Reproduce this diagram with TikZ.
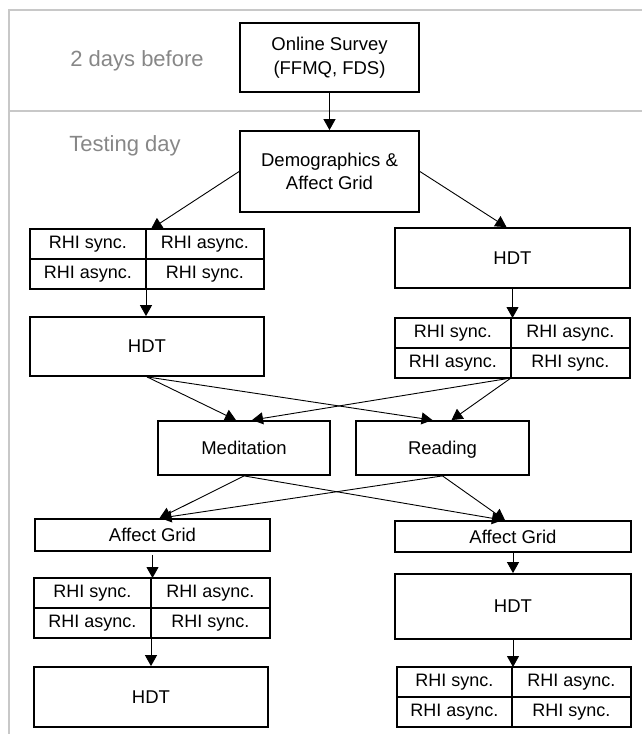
\documentclass[tikz,border=0pt]{standalone}
\usepackage{fontspec}
\setmainfont{Liberation Sans}
\usetikzlibrary{arrows.meta}
\definecolor{framegray}{RGB}{200,200,200}
\definecolor{labelgray}{RGB}{135,135,135}

\begin{document}
\begin{tikzpicture}[x=1pt,y=-1pt,
  box/.style={draw,line width=1.8pt,inner sep=0pt,align=center,font=\fontsize{18.5}{23.5}\selectfont},
  cell/.style={draw,line width=1.8pt,inner sep=0pt,outer sep=0pt,minimum height=30pt,anchor=north west,font=\fontsize{18}{21}\selectfont},
  phase/.style={text=labelgray,font=\fontsize{22}{26}\selectfont},
  arr/.style={-{Triangle[length=11pt,width=12pt]},line width=0.9pt},
  frame/.style={draw=framegray,line width=1.5pt}]
\useasboundingbox (0,0) rectangle (642,734);

\draw[frame] (642,10) -- (9,10) -- (9,734);
\draw[frame] (9,111) -- (642,111);

\node[phase] (before) at (137,61) {2 days before};
\node[phase] (testing) at (125,146) {Testing day};

\node[box,minimum width=179pt,minimum height=69pt] (survey) at (329.5,57.5) {Online Survey\\(FFMQ, FDS)};
\node[box,minimum width=179pt,minimum height=81pt] (demo) at (329.5,171.5) {Demographics \&\\Affect Grid};

\node[cell,minimum width=116pt] (g1a) at (30,229) {RHI sync.};
\node[cell,minimum width=118pt] (g1b) at (g1a.north east) {RHI async.};
\node[cell,minimum width=116pt] (g1c) at (g1a.south west) {RHI async.};
\node[cell,minimum width=118pt] (g1d) at (g1c.north east) {RHI sync.};
\node[box,minimum width=235pt,minimum height=60pt] (hdt1) at (512.5,258) {HDT};

\node[box,minimum width=234pt,minimum height=59pt] (hdt2) at (147,346.5) {HDT};
\node[cell,minimum width=116pt] (g2a) at (395,318) {RHI sync.};
\node[cell,minimum width=119pt] (g2b) at (g2a.north east) {RHI async.};
\node[cell,minimum width=116pt] (g2c) at (g2a.south west) {RHI async.};
\node[cell,minimum width=119pt] (g2d) at (g2c.north east) {RHI sync.};

\node[box,minimum width=172pt,minimum height=54pt] (med) at (244,448) {Meditation};
\node[box,minimum width=173pt,minimum height=54pt,text depth=0pt] (read) at (442.5,448) {Reading};

\node[box,minimum width=235pt,minimum height=32pt] (ag1) at (152.5,535) {Affect Grid};
\node[box,minimum width=236pt,minimum height=31pt] (ag2) at (513,536.5) {Affect Grid};

\node[cell,minimum width=117pt] (g3a) at (34,578) {RHI sync.};
\node[cell,minimum width=119pt] (g3b) at (g3a.north east) {RHI async.};
\node[cell,minimum width=117pt] (g3c) at (g3a.south west) {RHI async.};
\node[cell,minimum width=119pt] (g3d) at (g3c.north east) {RHI sync.};
\node[box,minimum width=236pt,minimum height=65pt] (hdt4) at (513,606.5) {HDT};

\node[box,minimum width=234pt,minimum height=60pt] (hdt3) at (151,697) {HDT};
\node[cell,minimum width=115pt] (g4a) at (397,667) {RHI sync.};
\node[cell,minimum width=119pt] (g4b) at (g4a.north east) {RHI async.};
\node[cell,minimum width=115pt] (g4c) at (g4a.south west) {RHI async.};
\node[cell,minimum width=119pt] (g4d) at (g4c.north east) {RHI sync.};

\draw[arr] (survey) -- (demo);
\draw[arr] (demo.west) -- ([xshift=5pt]g1a.north east);
\draw[arr] (demo.east) -- ([xshift=-6pt]hdt1.north);
\draw[arr] (g1c.south east) -- (g1c.south east |- hdt2.north);
\draw[arr] (hdt1.south) -- (hdt1.south |- g2a.north);
\draw[arr] (hdt2.south) -- ([xshift=-8pt]med.north);
\draw[arr] (hdt2.south) -- ([xshift=-10pt]read.north);
\draw[arr] (g2c.south east) -- ([xshift=8pt]med.north);
\draw[arr] (g2c.south east) -- ([xshift=9pt]read.north);
\draw[arr] (med.south) -- ([xshift=7pt]ag1.north);
\draw[arr] (read.south) -- ([xshift=8pt]ag1.north);
\draw[arr] (med.south) -- ([xshift=-10pt]ag2.north);
\draw[arr] (read.south) -- ([xshift=-8pt]ag2.north);
\draw[arr,shorten <=3pt] (ag1.south) -- (ag1.south |- g3a.north);
\draw[arr] (g3c.south east) -- (g3c.south east |- hdt3.north);
\draw[arr] (ag2.south) -- (ag2.south |- hdt4.north);
\draw[arr] (hdt4.south) -- (hdt4.south |- g4a.north);
\end{tikzpicture}
\end{document}
